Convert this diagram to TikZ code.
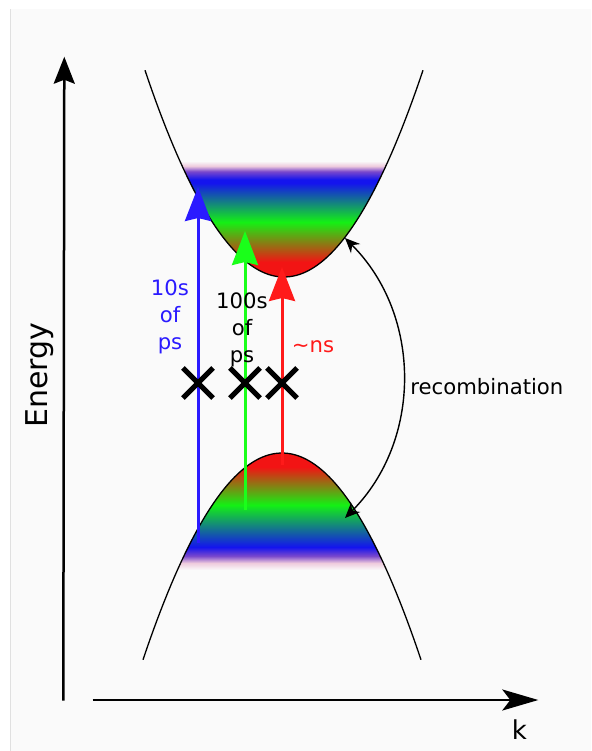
\documentclass[tikz,border=0pt]{standalone}
\usepackage{fontspec}
\setmainfont{DejaVu Sans}
\usetikzlibrary{arrows.meta,shapes.misc}
\definecolor{bgc}{HTML}{FAFAFA}
\definecolor{cB}{HTML}{1414EE}
\definecolor{cG}{HTML}{14F014}
\definecolor{cR}{HTML}{F21414}
\definecolor{cP}{HTML}{7A48CC}
\definecolor{cK}{HTML}{EECBDD}
\definecolor{aB}{HTML}{2A1AFF}
\definecolor{aG}{HTML}{1AFF1A}
\definecolor{aR}{HTML}{FF1A1A}
\pgfdeclareverticalshading{cbshade}{100bp}{color(0bp)=(cR); color(31.5bp)=(cR);
  color(48.7bp)=(cG); color(65.5bp)=(cB); color(67bp)=(cB); color(70.5bp)=(cP);
  color(72.8bp)=(cK); color(75bp)=(bgc); color(100bp)=(bgc)}
\pgfdeclareverticalshading{vbshade}{100bp}{color(0bp)=(bgc); color(25bp)=(bgc);
  color(28bp)=(cK); color(31bp)=(cP); color(34.8bp)=(cB); color(52.8bp)=(cG);
  color(69bp)=(cR); color(100bp)=(cR)}
\tikzset{
  band/.style={line width=0.65pt,black},
  axis/.style={line width=1.25pt,-{Stealth[length=13.5pt,width=10.5pt,inset=2pt]}},
  kaxis/.style={line width=1.25pt,-{Stealth[length=18pt,width=10.5pt,inset=4pt]}},
  excite/.style={line width=1.5pt,-{Stealth[length=17pt,width=13pt,inset=1.5pt]}},
  xmark/.style={cross out,draw,line width=2.6pt,minimum size=12.5pt,inner sep=0pt},
  lbl/.style={font=\fontsize{10.6}{13.4}\selectfont,align=center,inner sep=0pt},
  recarrow/.style={line width=0.7pt,{Stealth[length=7.5pt,width=6.5pt]}-{Stealth[length=7.5pt,width=6.5pt]}},
}

\begin{document}
\begin{tikzpicture}[x=0.5pt,y=-0.5pt]
  \useasboundingbox (0,0) rectangle (591,751);
  \fill[bgc] (10.7,9.3) rectangle (591,751);
  \draw[black!12,line width=0.5pt] (10.7,9.3) -- (10.7,751);
  % conduction / valence band filling
  \begin{scope}
    \clip plot[domain=180:388,samples=60] (\x,{277-1.07*((\x-284)/10)*((\x-284)/10)}) -- cycle;
    \shade[shading=cbshade] (170,161) rectangle (400,277);
  \end{scope}
  \begin{scope}
    \clip plot[domain=177.4:386.6,samples=60] (\x,{453+1.07*((\x-282)/10)*((\x-282)/10)}) -- cycle;
    \shade[shading=vbshade] (165,453) rectangle (400,570);
  \end{scope}
  \draw[band] plot[domain=145:423,samples=80] (\x,{277-1.07*((\x-284)/10)*((\x-284)/10)});
  \draw[band] plot[domain=143:421,samples=80] (\x,{453+1.07*((\x-282)/10)*((\x-282)/10)});

  \coordinate (b1) at (198,543); \coordinate (t1) at (198,187);
  \coordinate (b2) at (245,510); \coordinate (t2) at (245,231);
  \coordinate (b3) at (282,465); \coordinate (t3) at (282,267);
  \draw[excite,aB] (b1) -- (t1);
  \draw[excite,aG] (b2) -- (t2);
  \draw[excite,aR] (b3) -- (t3);
  \node[xmark] (x1) at (198,383) {};
  \node[xmark] (x2) at (245,383) {};
  \node[xmark] (x3) at (282,383) {};
  \node[lbl,aB] (l1) at (170,317) {10s\\of\\ps};
  \node[lbl] (l2) at (242,330) {100s\\of\\ps};
  \node[lbl,aR,anchor=base west] (l3) at (291.5,352) {\textasciitilde ns};

  \coordinate (rtop) at (345,238); \coordinate (rbot) at (345,518);
  \draw[recarrow] (rtop) to[bend left=45] (rbot);
  \node[lbl,anchor=base west] (rec) at (410,394) {recombination};

  \coordinate (o1) at (63.3,700.7); \coordinate (etop) at (64.3,56.7);
  \coordinate (o2) at (92.7,700); \coordinate (kend) at (538.3,700);
  \draw[axis] (o1) -- (etop);
  \draw[kaxis] (o2) -- (kend);
  \node[rotate=90,font=\fontsize{15}{18}\selectfont] (elbl) at (40,375) {Energy};
  \node[font=\fontsize{13}{15}\selectfont] (klbl) at (519.5,730) {k};
\end{tikzpicture}
\end{document}
